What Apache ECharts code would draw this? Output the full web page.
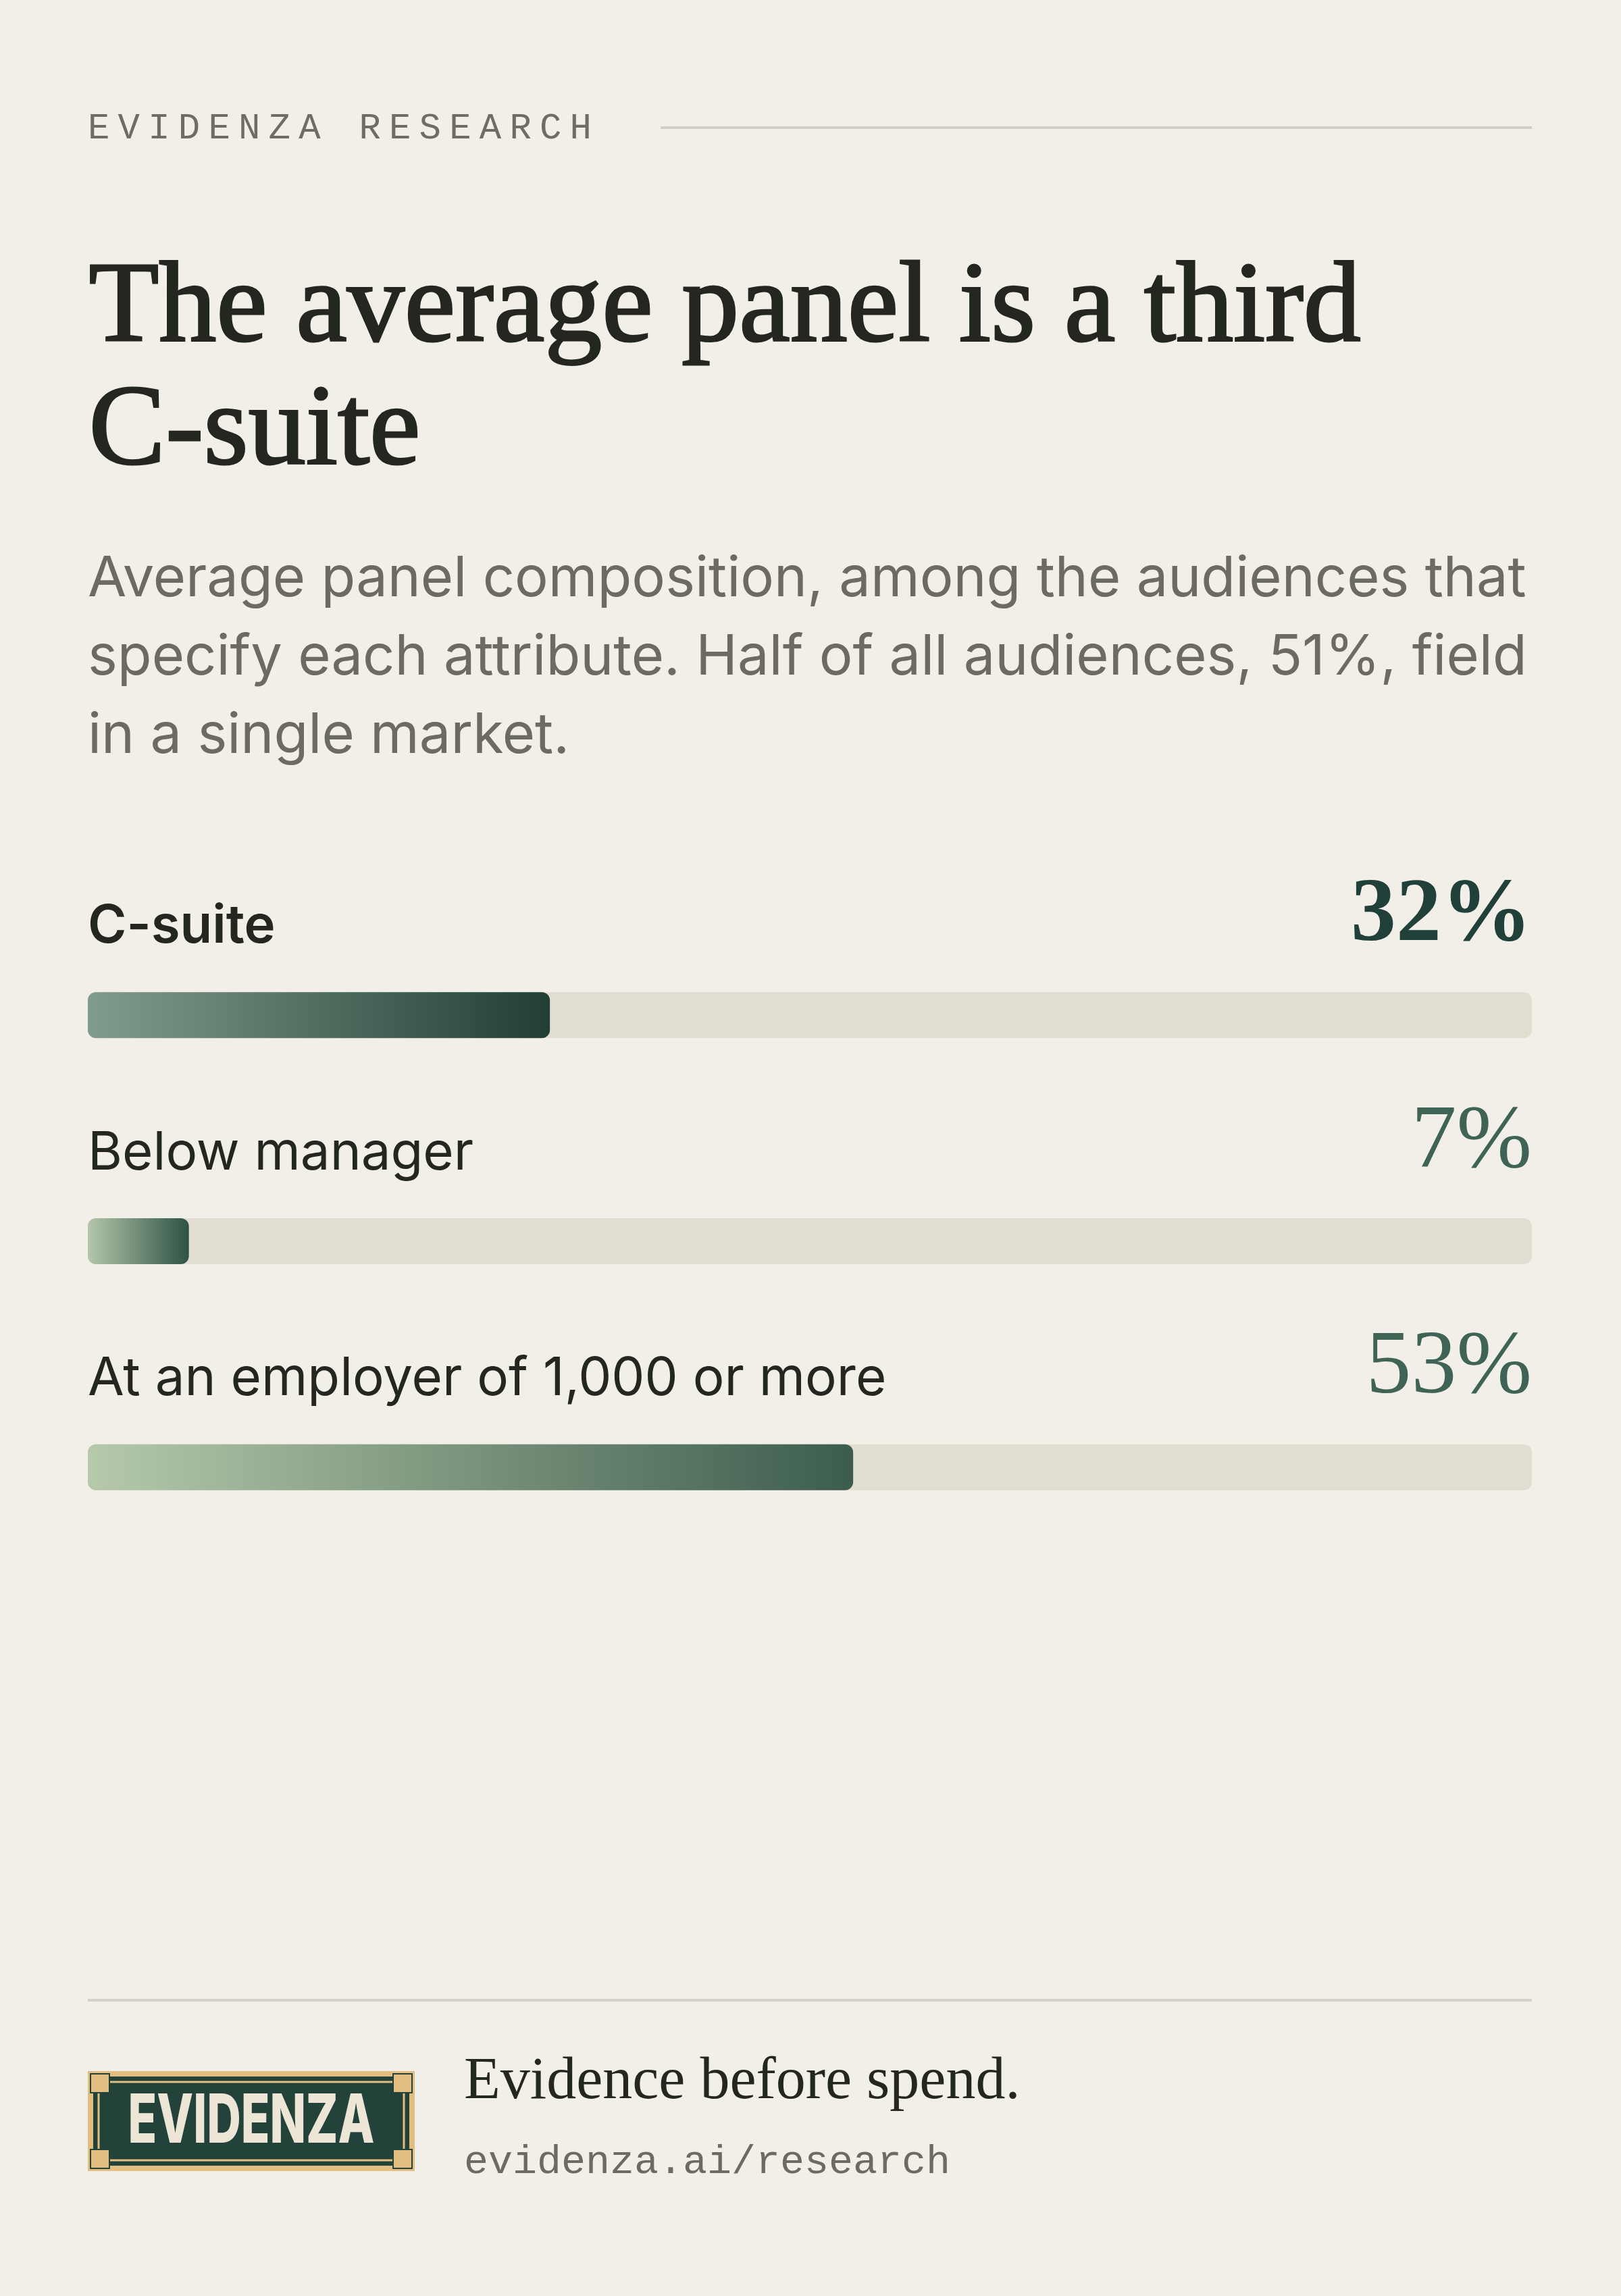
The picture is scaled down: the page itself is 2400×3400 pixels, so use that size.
<!DOCTYPE html>
<html><head><meta charset="utf-8">
<script src="https://cdn.jsdelivr.net/npm/echarts@6/dist/echarts.min.js"></script>
<style>html,body{margin:0;padding:0;background:#f2efe9}#c{width:2400px;height:3400px}</style>
</head><body><div id="c"></div>
<script>
const categories = ['C-suite', 'Below manager', 'At an employer of 1,000 or more'];
const values = [32, 7, 53];
const valueLabels = ['32%', '7%', '53%'];
const gradients = [['#809c8e', '#213f34'], ['#b3c5aa', '#2e5345'], ['#b6c9aa', '#3c5d4e']];

const chart = echarts.init(document.getElementById('c'), null, {renderer: 'canvas'});
const L = 130, R = 2268, W = R - L;
const rowLabelY = [1370, 1706, 2040];
const sans = 'Inter, "Noto Sans", sans-serif';
const serif = '"Liberation Serif", "DejaVu Serif", serif';
const mono = '"Liberation Mono", "DejaVu Sans Mono", monospace';

const graphics = [
  {type: 'line', shape: {x1: 978, y1: 189, x2: R, y2: 189}, style: {stroke: '#d3cfc5', lineWidth: 4}},
  {type: 'text', left: L, top: 368, style: {text: 'The average panel is a third\nC-suite', font: '400 170px ' + serif, lineHeight: 182, fill: '#23271f', stroke: '#23271f', lineWidth: 3}},
  {type: 'text', left: L, top: 800, style: {text: 'Average panel composition, among the audiences that\nspecify each attribute. Half of all audiences, 51%, field\nin a single market.', font: '400 83px ' + sans, lineHeight: 116, fill: '#6b6a63'}},
  {type: 'line', shape: {x1: L, y1: 2962, x2: R, y2: 2962}, style: {stroke: '#d6d2c8', lineWidth: 4}},
  // logo
  {type: 'rect', shape: {x: L, y: 3067, width: 484, height: 148}, style: {fill: '#23433a'}},
  {type: 'rect', shape: {x: L + 4, y: 3071, width: 476, height: 140}, style: {fill: 'none', stroke: '#e2bf80', lineWidth: 8}},
  {type: 'rect', shape: {x: L + 16, y: 3083, width: 452, height: 116}, style: {fill: 'none', stroke: '#e2bf80', lineWidth: 3}},
  {type: 'text', x: L + 242, y: 3143, scaleX: 0.7, style: {text: 'EVIDENZA', font: '800 100px ' + sans, fill: '#ede6d6', textAlign: 'center', textVerticalAlign: 'middle'}},
  {type: 'text', left: 687, top: 3040, style: {text: 'Evidence before spend.', font: '400 88px ' + serif, fill: '#23271f'}},
  {type: 'text', left: 687, top: 3172, style: {text: 'evidenza.ai/research', font: '400 60px ' + mono, fill: '#6b6a63'}}
];
'EVIDENZA RESEARCH'.split('').forEach((ch, k) => {
  graphics.push({type: 'text', x: L + k * 44.6, y: 191, style: {text: ch, font: '400 54px ' + mono, fill: '#6d6d66', textVerticalAlign: 'middle'}});
});
[[L, 3067], [L + 448, 3067], [L, 3179], [L + 448, 3179]].forEach(p => {
  graphics.push({type: 'rect', shape: {x: p[0] + 4, y: p[1] + 4, width: 28, height: 28}, style: {fill: '#e2bf80', stroke: '#23433a', lineWidth: 2}});
});
categories.forEach((c, i) => {
  graphics.push({type: 'text', left: L, top: rowLabelY[i] - 36, style: {text: c, font: (i === 0 ? '600 ' : '400 ') + '78px ' + sans, fill: '#23271f'}});
  graphics.push({type: 'text', right: 2400 - R, top: rowLabelY[i] - 80, style: {text: valueLabels[i], font: (i === 0 ? 'bold ' : '400 ') + '134px ' + serif, fill: i === 0 ? '#22403a' : '#3f6455'}});
});

chart.setOption({
  backgroundColor: '#f2efe9',
  animation: false,
  grid: {left: L, width: W, top: 1336, height: 1004},
  xAxis: {type: 'value', min: 0, max: 100, show: false},
  yAxis: {type: 'category', data: categories, inverse: true, show: false},
  series: [{
    type: 'bar', barWidth: 68,
    showBackground: true,
    backgroundStyle: {color: '#e1ddd1', borderRadius: 12},
    data: values.map((v, i) => ({value: v, itemStyle: {borderRadius: 12,
      color: new echarts.graphic.LinearGradient(0, 0, 1, 0, [{offset: 0, color: gradients[i][0]}, {offset: 1, color: gradients[i][1]}])}}))
  }],
  graphic: graphics
});
</script></body></html>
